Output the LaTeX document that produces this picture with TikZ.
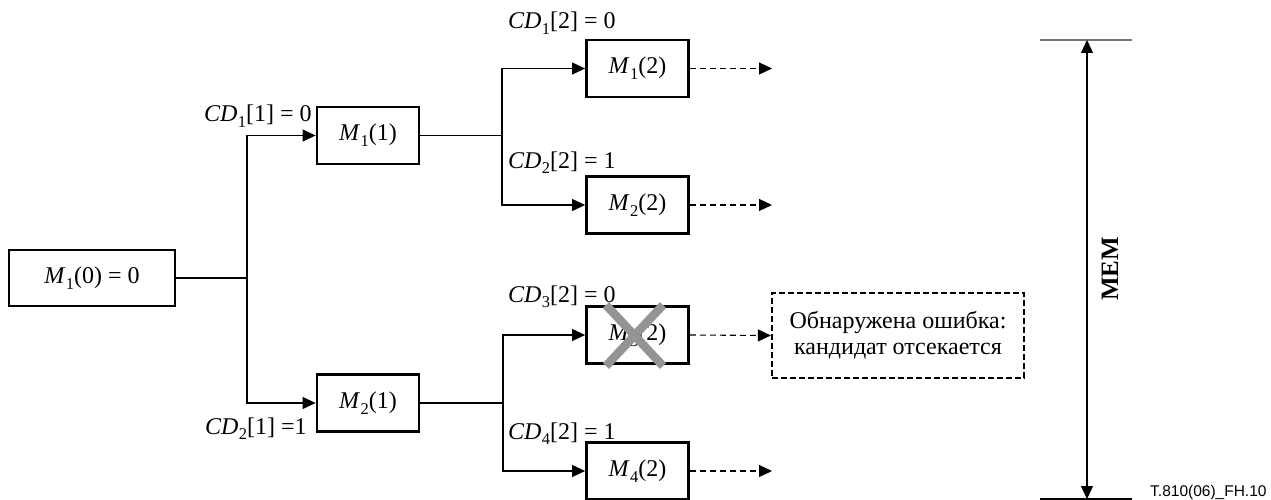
\documentclass[tikz,border=0pt]{standalone}
\usepackage{fontspec}
\setmainfont{Liberation Serif}
\newfontfamily\labsans{Liberation Sans}
\usetikzlibrary{arrows.meta}
\newcommand{\sbx}[1]{\raisebox{-0.24em}{\fontsize{16.5}{17}\selectfont #1}}
\newcommand{\Mx}[2]{\textit{M}\kern0.3pt\sbx{#1}(#2)}
\newcommand{\CDx}[2]{\textit{CD}\kern0.3pt\sbx{#1}[#2]}
\tikzset{
  box/.style={draw, line width=2.8pt, minimum width=102pt, minimum height=57pt, inner sep=0pt, font=\fontsize{24}{26}\selectfont},
  lab/.style={anchor=base west, inner sep=0pt, font=\fontsize{24}{26}\selectfont},
  conn/.style={line width=1.1pt},
  tip/.style={-{Triangle[length=13pt,width=12pt]}},
  dconn/.style={line width=1.1pt, dash pattern=on 6pt off 4pt, -{Triangle[length=13pt,width=12pt]}},
  crossline/.style={line width=8.5pt, draw=black!42}
}
\begin{document}
\begin{tikzpicture}[x=1pt,y=-1pt]
\useasboundingbox (0,0) rectangle (1271,500);
% boxes
\node[box, minimum width=166pt, minimum height=56pt] (m0) at (92,278) {\Mx{1}{0} = 0};
\node[box] (m11) at (368,135.5) {\Mx{1}{1}};
\node[box] (m21) at (368,403) {\Mx{2}{1}};
\node[box] (m12) at (637.5,68.5) {\Mx{1}{2}};
\node[box] (m22) at (637.5,205) {\Mx{2}{2}};
\node[box] (m32) at (637.5,335) {\Mx{3}{2}};
\node[box] (m42) at (637.5,471) {\Mx{4}{2}};
\node[draw, line width=2.2pt, dash pattern=on 6pt off 3pt, minimum width=252pt, minimum height=85pt, align=center, inner sep=0pt, font=\fontsize{24}{26}\selectfont] (err) at (898,335.5) {Обнаружена ошибка:\\кандидат отсекается};
% labels
\node[lab] (l11) at (204,122) {\CDx{1}{1} = 0};
\node[lab] (l21) at (205,434) {\CDx{2}{1} =1};
\node[lab] (l12) at (508,29) {\CDx{1}{2} = 0};
\node[lab] (l22) at (508,168) {\CDx{2}{2} = 1};
\node[lab] (l32) at (508,302) {\CDx{3}{2} = 0};
\node[lab] (l42) at (508,439) {\CDx{4}{2} = 1};
% junctions
\coordinate (j0) at (247,278);
\coordinate (j1) at (502,135.5);
\coordinate (j2) at (503,403);
\draw[conn] (m0.east) -- (j0);
\draw[conn, tip] (j0) |- (m11.west);
\draw[conn, tip] (j0) |- (m21.west);
\draw[conn] (m11.east) -- (j1);
\draw[conn, tip] (j1) |- (m12.west);
\draw[conn, tip] (j1) |- (m22.west);
\draw[conn] (m21.east) -- (j2);
\draw[conn, tip] (j2) |- (m32.west);
\draw[conn, tip] (j2) |- (m42.west);
% dashed outgoing
\coordinate (o12) at (772,68.5);
\coordinate (o22) at (772,205);
\coordinate (o42) at (772,471);
\draw[dconn] (m12.east) -- (o12);
\draw[dconn] (m22.east) -- (o22);
\draw[dconn] (m32.east) -- (err.west);
\draw[dconn] (m42.east) -- (o42);
% cross
\coordinate (c1) at (606,305);
\coordinate (c2) at (663,366);
\coordinate (c3) at (663,305);
\coordinate (c4) at (606,366);
\draw[crossline] (c1) -- (c2);
\draw[crossline] (c3) -- (c4);
% MEM dimension
\coordinate (t1) at (1040,40);
\coordinate (t2) at (1132,40);
\coordinate (b1) at (1040,499);
\coordinate (b2) at (1132,499);
\draw[line width=1.1pt, draw=black!55] (t1) -- (t2);
\draw[line width=1.1pt] (b1) -- (b2);
\coordinate (at) at (1087,40);
\coordinate (ab) at (1087,499);
\draw[line width=1.1pt, {Triangle[length=13pt,width=12pt]}-{Triangle[length=13pt,width=12pt]}] (at) -- (ab);
\node[rotate=90, inner sep=0pt, font=\fontsize{25}{26}\selectfont\bfseries] (mem) at (1110,269) {MEM};
\node[anchor=base west, inner sep=0pt, font=\labsans\fontsize{15.5}{16}\selectfont] (fig) at (1150,496) {T.810(06)\_FH.10};
\end{tikzpicture}
\end{document}
